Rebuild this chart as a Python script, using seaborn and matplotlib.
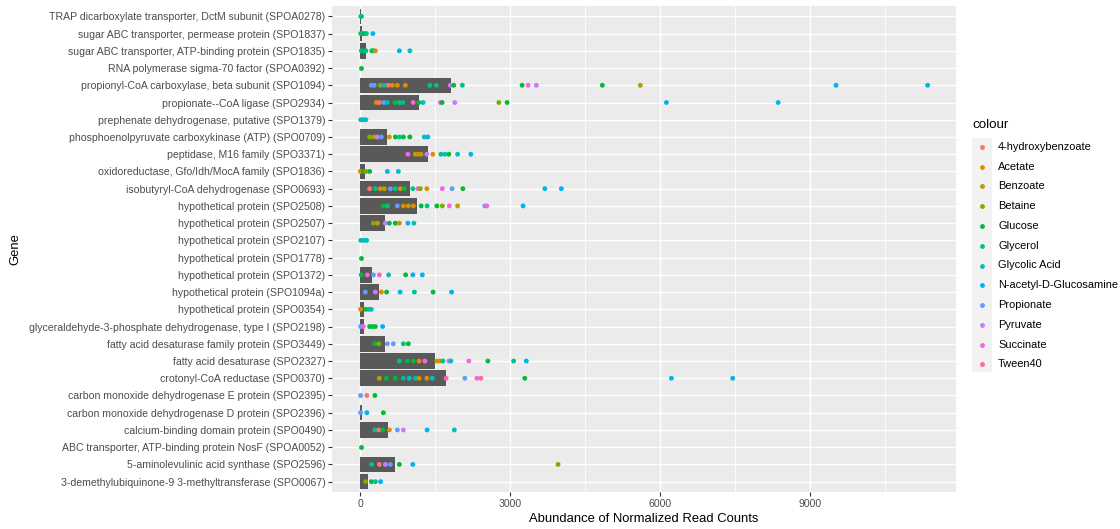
import matplotlib
matplotlib.use("Agg")
import matplotlib.pyplot as plt
import pandas as pd
import seaborn as sns
from matplotlib.lines import Line2D
from matplotlib.patches import Rectangle

# ---------------- data ----------------
genes = [
    "TRAP dicarboxylate transporter, DctM subunit (SPOA0278)",
    "sugar ABC transporter, permease protein (SPO1837)",
    "sugar ABC transporter, ATP-binding protein (SPO1835)",
    "RNA polymerase sigma-70 factor (SPOA0392)",
    "propionyl-CoA carboxylase, beta subunit (SPO1094)",
    "propionate--CoA ligase (SPO2934)",
    "prephenate dehydrogenase, putative (SPO1379)",
    "phosphoenolpyruvate carboxykinase (ATP) (SPO0709)",
    "peptidase, M16 family (SPO3371)",
    "oxidoreductase, Gfo/Idh/MocA family (SPO1836)",
    "isobutyryl-CoA dehydrogenase (SPO0693)",
    "hypothetical protein (SPO2508)",
    "hypothetical protein (SPO2507)",
    "hypothetical protein (SPO2107)",
    "hypothetical protein (SPO1778)",
    "hypothetical protein (SPO1372)",
    "hypothetical protein (SPO1094a)",
    "hypothetical protein (SPO0354)",
    "glyceraldehyde-3-phosphate dehydrogenase, type I (SPO2198)",
    "fatty acid desaturase family protein (SPO3449)",
    "fatty acid desaturase (SPO2327)",
    "crotonyl-CoA reductase (SPO0370)",
    "carbon monoxide dehydrogenase E protein (SPO2395)",
    "carbon monoxide dehydrogenase D protein (SPO2396)",
    "calcium-binding domain protein (SPO0490)",
    "ABC transporter, ATP-binding protein NosF (SPOA0052)",
    "5-aminolevulinic acid synthase (SPO2596)",
    "3-demethylubiquinone-9 3-methyltransferase (SPO0067)",
]

bar_means = [5, 40, 110, 0, 1808, 1175, 0, 525, 1360, 90, 985, 1130, 500, 0, 0,
             225, 380, 65, 65, 485, 1495, 1715, 0, 25, 545, 0, 700, 160]

sources = ["4-hydroxybenzoate", "Acetate", "Benzoate", "Betaine", "Glucose",
           "Glycerol", "Glycolic Acid", "N-acetyl-D-Glucosamine", "Propionate",
           "Pyruvate", "Succinate", "Tween40"]
source_codes = ["HB", "Ac", "Bz", "Bt", "Gc", "Gy", "GA", "NAG", "Pr", "Py", "Su", "Tw"]
source_colors = ["#F8766D", "#DE8C00", "#B79F00", "#7CAE00", "#00BA38", "#00C08B",
                 "#00BFC4", "#00B4F0", "#619CFF", "#C77CFF", "#F564E3", "#FF64B0"]

# per-gene observations: (carbon source code, normalized read count)
gene_points = [
    [("Gc", 20), ("Gy", 10)],
    [("Gc", 10), ("Gy", 40), ("Gc", 80), ("Gy", 120), ("NAG", 250)],
    [("Gy", 20), ("Gc", 60), ("Gy", 110), ("Gc", 230), ("Gy", 260), ("Ac", 300), ("NAG", 780), ("GA", 990)],
    [("Gc", 10)],
    [("Pr", 220), ("Pr", 280), ("Bt", 400), ("GA", 480), ("HB", 560), ("Ac", 640), ("Ac", 740),
     ("Ac", 900), ("Gy", 1390), ("Gy", 1520), ("Py", 1800), ("Gc", 1868), ("Gy", 2040),
     ("Gc", 3235), ("Su", 3355), ("Py", 3520), ("Gc", 4840), ("Bz", 5600), ("NAG", 9516), ("NAG", 11348)],
    [("Ac", 320), ("HB", 380), ("Pr", 470), ("GA", 540), ("Gc", 690), ("Gy", 780), ("Gy", 850),
     ("Su", 1055), ("Gc", 1170), ("GA", 1255), ("Su", 1600), ("Gc", 1635), ("Py", 1890),
     ("Bt", 2770), ("Gc", 2935), ("NAG", 6122), ("NAG", 8358)],
    [("Gy", 10), ("GA", 60), ("GA", 110)],
    [("Bt", 185), ("Bz", 270), ("Py", 340), ("Pr", 420), ("Ac", 580), ("Gc", 700), ("Gy", 780),
     ("Gc", 860), ("Gc", 990), ("GA", 1280), ("NAG", 1350)],
    [("Su", 950), ("Bz", 1100), ("Ac", 1160), ("Bz", 1215), ("Py", 1330), ("Ac", 1450),
     ("Gy", 1610), ("GA", 1690), ("Gc", 1770), ("GA", 1945), ("NAG", 2210)],
    [("Ac", 0), ("Gc", 60), ("Bt", 110), ("Gc", 185), ("NAG", 540), ("GA", 760)],
    [("HB", 185), ("Gy", 300), ("Ac", 400), ("Bz", 480), ("Pr", 600), ("Gy", 700), ("Ac", 800),
     ("Gc", 880), ("Gy", 1050), ("Su", 1150), ("Bt", 1200), ("Ac", 1330), ("Su", 1640),
     ("Pr", 1835), ("Gc", 2050), ("NAG", 3690), ("NAG", 4020)],
    [("Gc", 460), ("Gy", 540), ("Pr", 740), ("Ac", 860), ("Bz", 960), ("Ac", 1060), ("Gc", 1215),
     ("Gy", 1335), ("Gc", 1530), ("Bt", 1640), ("Su", 1780), ("Bz", 1945), ("Pr", 2490),
     ("Su", 2530), ("NAG", 3255)],
    [("Bt", 260), ("Ac", 340), ("Py", 500), ("Gc", 580), ("Gc", 700), ("Ac", 780), ("NAG", 950), ("GA", 1070)],
    [("Gy", 10), ("GA", 70), ("GA", 125)],
    [("Gc", 10)],
    [("Gc", 20), ("Su", 140), ("Pr", 260), ("Tw", 380), ("GA", 565), ("Gc", 905), ("NAG", 1050), ("NAG", 1240)],
    [("Pr", 100), ("Py", 300), ("Ac", 420), ("Gc", 525), ("NAG", 795), ("Gy", 1080), ("Gc", 1455), ("NAG", 1825)],
    [("Ac", 5), ("Gc", 110), ("Gy", 170), ("GA", 220)],
    [("Pr", 5), ("Su", 60), ("Gc", 185), ("Gc", 240), ("Gc", 300), ("NAG", 445)],
    [("Gc", 285), ("Bt", 370), ("Pr", 540), ("Pr", 660), ("Gy", 860), ("Gc", 960)],
    [("Gy", 780), ("Gc", 940), ("Gc", 1060), ("Ac", 1175), ("Su", 1290), ("Bz", 1530), ("Ac", 1590),
     ("Gy", 1650), ("Py", 1770), ("GA", 1810), ("Su", 2170), ("Gc", 2550), ("Gy", 3065), ("NAG", 3320)],
    [("Bz", 380), ("Gc", 520), ("Gc", 700), ("Gy", 860), ("GA", 980), ("Gy", 1100), ("Ac", 1175),
     ("Ac", 1330), ("GA", 1440), ("Tw", 1715), ("Pr", 2090), ("Su", 2330), ("Tw", 2410),
     ("Gc", 3290), ("NAG", 6222), ("NAG", 7448)],
    [("Pr", 5), ("HB", 130), ("Gc", 290)],
    [("Pr", 5), ("NAG", 130), ("Gc", 460)],
    [("Gy", 290), ("HB", 370), ("Gc", 450), ("Ac", 580), ("Pr", 740), ("Py", 860), ("NAG", 1335), ("GA", 1880)],
    [("Gc", 10)],
    [("Gy", 225), ("HB", 380), ("Py", 500), ("Pr", 600), ("Gc", 780), ("NAG", 1050), ("Bt", 3955)],
    [("Bt", 105), ("Gc", 220), ("Gy", 300), ("NAG", 405)],
]

x_ticks = [0, 3000, 6000, 9000]
x_minor = [1500, 4500, 7500, 10500]

# ---------------- build frames ----------------
code_to_name = dict(zip(source_codes, sources))
rows = []
for g, plist in zip(genes, gene_points):
    for code, v in plist:
        rows.append({"gene": g, "source": code_to_name[code], "value": v})
pts = pd.DataFrame(rows)
bars = pd.DataFrame({"gene": genes, "mean": bar_means})
palette = dict(zip(sources, source_colors))

# ---------------- figure ----------------
plt.rcParams["font.family"] = ["Liberation Sans", "DejaVu Sans"]
W, H = 1120, 529
fig = plt.figure(figsize=(W / 100, H / 100), dpi=100)
ax = fig.add_axes([332 / W, 1 - 492 / H, (956 - 332) / W, (492 - 6) / H])
ax.set_facecolor("#EBEBEB")

sns.barplot(data=bars, x="mean", y="gene", order=genes, color="#595959",
            saturation=1, width=0.9, errorbar=None, ax=ax, zorder=2, linewidth=0)
sns.stripplot(data=pts, x="value", y="gene", hue="source", order=genes,
              hue_order=sources, palette=palette, jitter=False, dodge=False,
              size=3.5, linewidth=0, legend=False, ax=ax, zorder=3)

xmax = pts["value"].max()
ax.set_xlim(-0.05 * xmax, 1.05 * xmax)
ax.set_ylim(len(genes) - 0.4, -0.6)

ax.set_xticks(x_ticks)
ax.set_xticklabels([str(t) for t in x_ticks])
ax.set_xticks(x_minor, minor=True)
ax.set_axisbelow(True)
ax.grid(which="major", color="white", linewidth=1.05, zorder=0)
ax.grid(which="minor", axis="x", color="white", linewidth=0.55, zorder=0)
for s in ax.spines.values():
    s.set_visible(False)
ax.tick_params(axis="both", which="major", length=2.8, width=0.8, color="#333333",
               labelcolor="#4D4D4D", labelsize=7.6, pad=2)
ax.tick_params(axis="both", which="minor", length=0)

ax.set_xlabel("Abundance of Normalized Read Counts", fontsize=9.4, color="black")
ax.set_ylabel("Gene", fontsize=9.4, color="black")
ax.xaxis.set_label_coords(0.5, -(519 - 492) / (492 - 6), transform=ax.transAxes)
ax.xaxis.label.set_va("center")
ax.yaxis.set_label_coords(-(332 - 15) / (956 - 332), 0.5, transform=ax.transAxes)
ax.yaxis.label.set_va("center")

# ---------------- legend (ggplot-like) ----------------
fig.text(972 / W, 1 - 125 / H, "colour", fontsize=9.6, va="center", ha="left", color="black")
fig.add_artist(Rectangle((972 / W, 1 - 372 / H), 20 / W, (372 - 138) / H,
                         transform=fig.transFigure, facecolor="#F2F2F2", edgecolor="none"))
y0, dy = 147.0, 19.75
for i, (name, col) in enumerate(zip(sources, source_colors)):
    yy = 1 - (y0 + i * dy) / H
    fig.add_artist(Line2D([982 / W], [yy], transform=fig.transFigure, marker="o",
                          markersize=3.5, markerfacecolor=col, markeredgewidth=0,
                          linestyle="none"))
    fig.text(998 / W, yy, name, fontsize=7.9, va="center", ha="left", color="black")

fig.savefig("out.png", dpi=100, facecolor="white")
